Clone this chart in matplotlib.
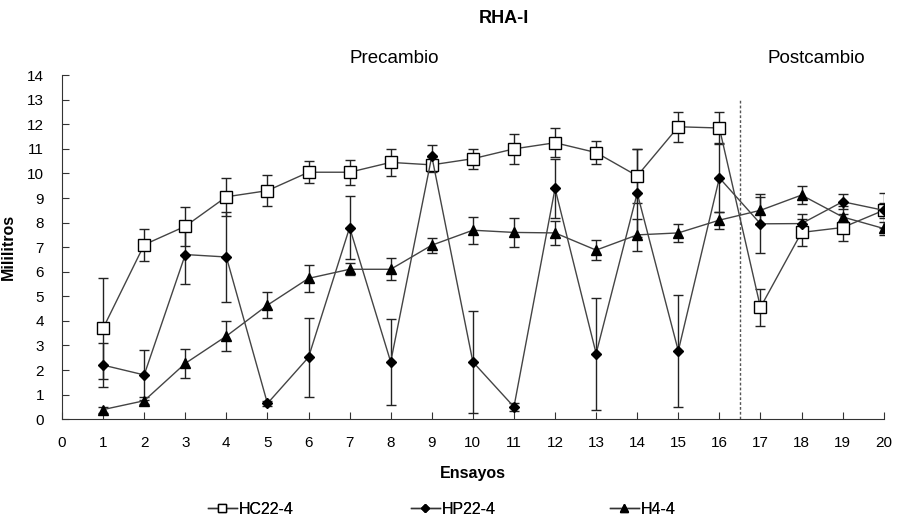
import matplotlib
matplotlib.use("Agg")
import matplotlib.pyplot as plt
from matplotlib.lines import Line2D

plt.rcParams['font.family'] = ['Liberation Sans', 'DejaVu Sans']

ensayos = list(range(1, 21))
hc_vals = [3.7, 7.1, 7.85, 9.05, 9.3, 10.05, 10.05, 10.45, 10.35, 10.6,
           11.0, 11.25, 10.85, 9.9, 11.9, 11.85, 4.55, 7.6, 7.8, 8.5]
hc_err = [2.05, 0.65, 0.8, 0.77, 0.63, 0.45, 0.5, 0.55, 0.3, 0.4,
          0.62, 0.6, 0.46, 1.1, 0.6, 0.65, 0.75, 0.56, 0.55, 0.7]
hp_vals = [2.2, 1.8, 6.7, 6.6, 0.64, 2.52, 7.8, 2.33, 10.7, 2.33,
           0.5, 9.39, 2.67, 9.2, 2.78, 9.82, 7.95, 7.96, 8.85, 8.5]
hp_err = [0.9, 1.0, 1.2, 1.85, 0.1, 1.6, 1.3, 1.74, 0.45, 2.07,
          0.15, 1.2, 2.28, 1.8, 2.27, 1.4, 1.2, 0.38, 0.3, 0.3]
h4_vals = [0.39, 0.75, 2.27, 3.38, 4.64, 5.73, 6.1, 6.1, 7.08, 7.69,
           7.6, 7.58, 6.88, 7.5, 7.58, 8.1, 8.5, 9.12, 8.23, 7.76]
h4_err = [0.12, 0.15, 0.6, 0.6, 0.52, 0.55, 0.25, 0.45, 0.3, 0.55,
          0.6, 0.5, 0.4, 0.65, 0.36, 0.35, 0.55, 0.36, 0.45, 0.25]

series = [
    ("HC22-4", hc_vals, hc_err, dict(marker='s', markerfacecolor='white'), 8, 5.5),
    ("HP22-4", hp_vals, hp_err, dict(marker='D', markerfacecolor='black'), 5.5, 4.5),
    ("H4-4", h4_vals, h4_err, dict(marker='^', markerfacecolor='black'), 7, 6),
]

fig = plt.figure(figsize=(8.99, 5.22), dpi=100)
ax = fig.add_axes([0.069, 0.197, 0.914, 0.659])

leg_handles = []
for name, vals, err, style, ms, lms in series:
    ax.errorbar(ensayos, vals, yerr=err, fmt='none', ecolor='#222222',
                elinewidth=1.0, capsize=3.5, capthick=1.0, zorder=2)
    ax.plot(ensayos, vals, color='#444444', linewidth=1.0, markersize=ms,
            markeredgecolor='black', markeredgewidth=1.0, zorder=3, **style)
    leg_handles.append(Line2D([], [], color='#333333', linewidth=1.0, markersize=lms,
                              markeredgecolor='black', markeredgewidth=1.0,
                              label=name, **style))

ax.plot([16.5, 16.5], [0, 13.05], color='#555555', linestyle=(0, (2, 1.5)),
        linewidth=1.0, zorder=1)

ax.set_xlim(0, 20)
ax.set_ylim(0, 14)
ax.set_xticks(range(0, 21))
ax.set_yticks(range(0, 15))
ax.tick_params(axis='both', direction='in', length=5, labelsize=11, color='#333333')
ax.tick_params(axis='x', pad=12)
ax.tick_params(axis='y', pad=13)
for s in ['top', 'right']:
    ax.spines[s].set_visible(False)
for s in ['left', 'bottom']:
    ax.spines[s].set_color('#333333')

ax.set_xlabel('Ensayos', fontsize=11.5, fontweight='bold', labelpad=12)
ax.set_ylabel('Mililitros', fontsize=11.5, fontweight='bold', labelpad=8)

fig.text(0.56, 0.965, 'RHA-I', ha='center', va='center', fontsize=13, fontweight='bold')
fig.text(0.438, 0.888, 'Precambio', ha='center', va='center', fontsize=13.5)
fig.text(0.908, 0.888, 'Postcambio', ha='center', va='center', fontsize=13.5)

leg_x = [208 / 899, 411 / 899, 610 / 899]
for h, lx in zip(leg_handles, leg_x):
    lg = fig.legend(handles=[h], loc='center left', bbox_to_anchor=(lx, 0.024),
                    frameon=False, fontsize=11.5, handlelength=1.8,
                    handletextpad=0.1, borderpad=0, borderaxespad=0)
    fig.add_artist(lg)

fig.savefig('out.png', dpi=100)
